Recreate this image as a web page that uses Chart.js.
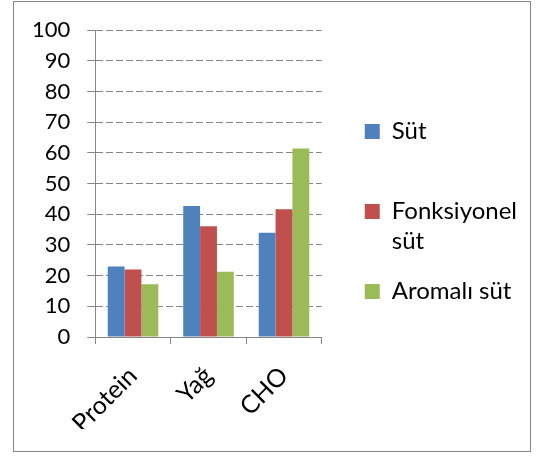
<!DOCTYPE html>
<html><head><meta charset="utf-8">
<script src="https://cdn.jsdelivr.net/npm/chart.js@4/dist/chart.umd.min.js"></script>
<style>
html,body{margin:0;padding:0;background:#fff;}
#wrap{position:relative;width:544px;height:456px;}
#frame{position:absolute;left:13px;top:1px;width:518px;height:451px;border:1.5px solid #868686;box-sizing:border-box;pointer-events:none;}
canvas{display:block;}
</style></head><body>
<div id="wrap"><canvas id="c" width="544" height="456"></canvas><div id="frame"></div></div>
<script>
const categories = ['Protein', 'Yağ', 'CHO'];
const seriesNames = ['Süt', 'Fonksiyonel süt', 'Aromalı süt'];
const sut = [23.0, 42.7, 34.0];
const fonksiyonelSut = [22.0, 36.1, 41.6];
const aromaliSut = [17.2, 21.3, 61.4];
const yTicks = [0, 10, 20, 30, 40, 50, 60, 70, 80, 90, 100];

const GRAY = '#868686';

const chart = new Chart(document.getElementById('c'), {
  type: 'bar',
  data: {
    labels: categories,
    datasets: [
      {label: seriesNames[0], data: sut, backgroundColor: '#4F81BD'},
      {label: seriesNames[1], data: fonksiyonelSut, backgroundColor: '#C0504D'},
      {label: seriesNames[2], data: aromaliSut, backgroundColor: '#9BBB59'}
    ]
  },
  options: {
    responsive: false,
    animation: false,
    datasets: {bar: {categoryPercentage: 0.67, barPercentage: 1.0}},
    layout: {padding: {left: 15, top: 30, right: 17, bottom: 27}},
    scales: {
      x: {
        afterFit: s => { s.height = 92; },
        grid: {offset: true, drawOnChartArea: false, tickLength: 7, color: GRAY},
        border: {color: GRAY, width: 1},
        ticks: {maxRotation: 45, minRotation: 45, padding: 17, labelOffset: 0, color: '#000', font: {family: 'Lato', size: 25}}
      },
      y: {
        min: 0, max: 100,
        afterBuildTicks: s => { s.ticks = yTicks.map(v => ({value: v})); },
        grid: {color: GRAY, tickLength: 8, tickColor: GRAY, tickBorderDash: []},
        border: {color: GRAY, dash: [7, 3], width: 1},
        ticks: {autoSkip: false, padding: 17, color: '#000', font: {family: 'Lato', size: 22}}
      },
      y2: {
        type: 'linear', position: 'right', display: true,
        grid: {display: false}, border: {display: false}, ticks: {display: false},
        afterFit: s => { s.width = 23; }
      }
    },
    plugins: {
      tooltip: {enabled: false},
      legend: {
        position: 'right',
        maxWidth: 260,
        labels: {
          font: {family: 'Lato', size: 24, lineHeight: 30 / 24},
          color: '#000',
          boxWidth: 15, boxHeight: 15, padding: 20,
          generateLabels: c => {
            const items = Chart.defaults.plugins.legend.labels.generateLabels(c);
            items.forEach(it => {
              it.lineWidth = 0;
              if (it.text === 'Süt') it.text = ['Süt', ''];
              else if (it.text === 'Fonksiyonel süt') it.text = ['Fonksiyonel', 'süt'];
              else if (it.text === 'Aromalı süt') it.text = ['Aromalı süt', ''];
            });
            return items;
          }
        }
      }
    }
  }
});
</script>
</body></html>
